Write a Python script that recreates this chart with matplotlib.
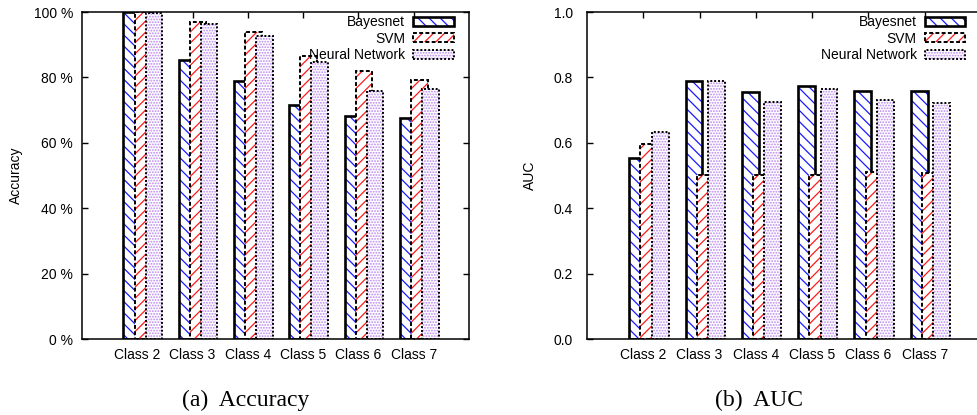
"""
Accuracy and AUC per class for Bayesnet, SVM and Neural Network
(gnuplot-style clustered histogram, two panels).
"""

import numpy as np
import matplotlib
matplotlib.use("Agg")
import matplotlib.pyplot as plt
import matplotlib.patches as mpatches
from matplotlib.legend_handler import HandlerTuple

plt.rcParams["font.family"] = ["Liberation Sans", "DejaVu Sans"]
plt.rcParams["hatch.linewidth"] = 0.9

# Data
classes = ["Class 2", "Class 3", "Class 4", "Class 5", "Class 6", "Class 7"]
models = ["Bayesnet", "SVM", "Neural Network"]

accuracy_bayesnet = [100.0, 85.3, 78.9, 71.6, 68.2, 67.6]
accuracy_svm = [99.9, 96.9, 93.9, 86.5, 82.0, 79.1]
accuracy_nn = [99.6, 96.3, 92.7, 84.8, 75.8, 76.3]

auc_bayesnet = [0.554, 0.790, 0.755, 0.775, 0.759, 0.759]
auc_svm = [0.595, 0.500, 0.500, 0.500, 0.510, 0.508]
auc_nn = [0.633, 0.789, 0.726, 0.764, 0.731, 0.723]

acc_ticks = [0, 20, 40, 60, 80, 100]
auc_ticks = [0.0, 0.2, 0.4, 0.6, 0.8, 1.0]

# Style per series: hatch colour, hatch, outline width, outline style
styles = [
    {"hcolor": "#1a1aff", "hatch": "\\\\\\", "lw": 1.9, "ls": "-"},
    {"hcolor": "#ff1a1a", "hatch": "///", "lw": 1.4, "ls": (0, (2.0, 1.2))},
    {"hcolor": "#bb88f0", "hatch": "......", "lw": 1.4, "ls": (0, (1.0, 1.0))},
]
offsets = [-0.1, 0.1, 0.3]
bar_width = 0.3


def draw_panel(ax, series, ticks, tick_fmt, ylim, ytick_pad, right_ticks):
    x = np.arange(len(classes))
    handles = []
    for j, (vals, st) in enumerate(zip(series, styles)):
        # hatched fill (white background covers previous bar)
        ax.bar(x + offsets[j], vals, width=bar_width, facecolor="white",
               edgecolor=st["hcolor"], hatch=st["hatch"], linewidth=0,
               zorder=2 + 2 * j)
        # black outline
        ax.bar(x + offsets[j], vals, width=bar_width, fill=False,
               edgecolor="black", linewidth=st["lw"], linestyle=st["ls"],
               zorder=3 + 2 * j)
        h1 = mpatches.Patch(facecolor="white", edgecolor=st["hcolor"],
                            hatch=st["hatch"], linewidth=0)
        h2 = mpatches.Patch(fill=False, edgecolor="black",
                            linewidth=st["lw"], linestyle=st["ls"])
        handles.append((h1, h2))

    ax.set_xlim(-1, 6)
    ax.set_ylim(*ylim)
    ax.set_xticks(x)
    ax.set_xticklabels(classes, fontsize=10)
    ax.set_yticks(ticks)
    ax.set_yticklabels([tick_fmt(t) for t in ticks], fontsize=10)
    ax.tick_params(axis="both", direction="in", length=4, width=1.0,
                   top=True, right=right_ticks)
    ax.tick_params(axis="x", pad=6.5)
    ax.tick_params(axis="y", pad=ytick_pad)
    for sp in ax.spines.values():
        sp.set_linewidth(1.1)
        sp.set_zorder(20)

    leg = ax.legend(handles, models, loc="upper right",
                    bbox_to_anchor=(0.96, 0.99), frameon=False,
                    markerfirst=False, fontsize=10, borderpad=0,
                    borderaxespad=0, handlelength=2.9, handleheight=0.6,
                    handletextpad=0.6, labelspacing=0.18,
                    handler_map={tuple: HandlerTuple(ndivide=1, pad=0)})
    leg.set_zorder(30)
    return ax


fig = plt.figure(figsize=(9.77, 4.15), dpi=100)
ax1 = fig.add_axes([82 / 977, 76 / 415, 387 / 977, 327 / 415])
ax2 = fig.add_axes([587 / 977, 76 / 415, 394 / 977, 327 / 415])

draw_panel(ax1, [accuracy_bayesnet, accuracy_svm, accuracy_nn], acc_ticks,
           lambda t: f"{t:d} %", (0, 100), 6.5, True)
draw_panel(ax2, [auc_bayesnet, auc_svm, auc_nn], auc_ticks,
           lambda t: f"{t:.1f}", (0, 1.0), 10, False)

ax1.set_ylabel("Accuracy", fontsize=10)
ax1.yaxis.set_label_coords(-0.153, 0.5)
ax2.set_ylabel("AUC", fontsize=10)
ax2.yaxis.set_label_coords(-0.127, 0.5)

# Sub-figure captions
fig.text(245.5 / 977, 1 - 400 / 415, "(a)  Accuracy", ha="center",
         va="center", family="Liberation Serif", fontsize=17)
fig.text(759 / 977, 1 - 400 / 415, "(b)  AUC", ha="center",
         va="center", family="Liberation Serif", fontsize=17)

fig.savefig("out.png", dpi=100, facecolor="white")
